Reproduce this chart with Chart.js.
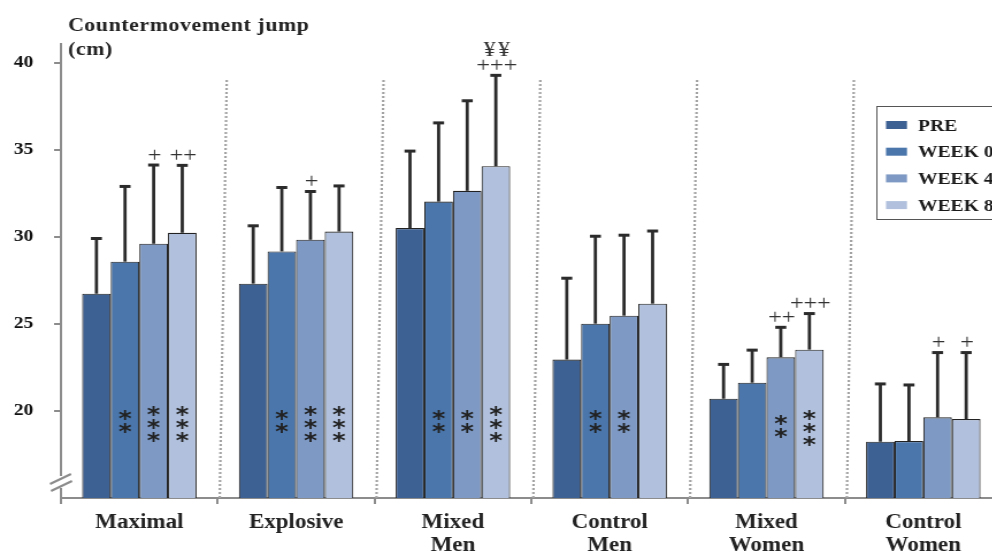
<!DOCTYPE html>
<html>
<head>
<meta charset="utf-8">
<script src="https://cdn.jsdelivr.net/npm/chart.js@4.4.1/dist/chart.umd.min.js"></script>
<style>
  html, body { margin: 0; padding: 0; background: #fff; overflow: hidden; width: 992px; height: 555px; }
  #c { position: absolute; left: 0; top: 0; }
</style>
</head>
<body>
<canvas id="c" width="880" height="569"></canvas>
<script>
// Countermovement jump (cm) by training group and time point
const groups = ['Maximal', 'Explosive', ['Mixed', 'Men'], ['Control', 'Men'], ['Mixed', 'Women'], ['Control', 'Women']];
const seriesNames = ['PRE', 'WEEK 0', 'WEEK 4', 'WEEK 8'];

const pre   = [26.73, 27.31, 30.50, 22.95, 20.70, 18.23];
const week0 = [28.57, 29.16, 32.02, 25.01, 21.62, 18.27];
const week4 = [29.60, 29.83, 32.64, 25.47, 23.08, 19.63];
const week8 = [30.23, 30.30, 34.05, 26.16, 23.52, 19.53];

// standard deviations (upper whiskers)
const preSD   = [3.20, 3.35, 4.45, 4.70, 2.00, 3.35];
const week0SD = [4.35, 3.70, 4.55, 5.05, 1.90, 3.25];
const week4SD = [4.55, 2.80, 5.20, 4.65, 1.75, 3.75];
const week8SD = [3.90, 2.65, 5.25, 4.20, 2.10, 3.85];

// significance vs PRE (number of asterisks)
const starsPre = [0, 0, 0, 0, 0, 0];
const stars0   = [2, 2, 2, 2, 0, 0];
const stars4   = [3, 3, 2, 2, 2, 0];
const stars8   = [3, 3, 3, 0, 3, 0];

// significance vs WEEK 0 (+) and between groups (¥)
const plusPre = ['', '', '', '', '', ''];
const plus0   = ['', '', '', '', '', ''];
const plus4   = ['+', '+', '', '', '++', '+'];
const plus8   = ['++', '', '+++', '', '+++', '+'];
const yen8    = ['', '', '¥¥', '', '', ''];

const yTickValues = [20, 25, 30, 35, 40];
const colors = ['#3e6193', '#4a76ab', '#7d99c4', '#b1c1dd'];

const values = [pre, week0, week4, week8];
const sds = [preSD, week0SD, week4SD, week8SD];
const stars = [starsPre, stars0, stars4, stars8];
const plus = [plusPre, plus0, plus4, plus8];
const none = ['', '', '', '', '', ''];
const yen = [none, none, none, yen8];

const SERIF = '"Liberation Serif", "Times New Roman", serif';

// the figure is drawn on a narrower canvas and widened with CSS
const SX = 1.15;
const canvas = document.getElementById('c');
canvas.style.width = (canvas.width * SX) + 'px';
canvas.style.height = canvas.height + 'px';
const hx = v => v / SX;   // horizontal length in canvas units

function centeredText(ctx, txt, x, cy) {
  const m = ctx.measureText(txt);
  const off = (m.actualBoundingBoxAscent - m.actualBoundingBoxDescent) / 2;
  ctx.fillText(txt, x, cy + off);
}

const decor = {
  id: 'decor',
  beforeDatasetsDraw(chart) {
    const { ctx, scales: { x, y } } = chart;
    // dotted separators between groups
    ctx.save();
    ctx.strokeStyle = '#a3a3a3';
    ctx.lineWidth = hx(2.5);
    ctx.setLineDash([2, 2]);
    const step = (x.right - x.left) / groups.length;
    for (let k = 1; k < groups.length; k++) {
      const bx = x.left + k * step;
      ctx.beginPath();
      ctx.moveTo(bx + hx(9), y.getPixelForValue(39));
      ctx.lineTo(bx + hx(2), y.bottom);
      ctx.stroke();
    }
    ctx.restore();
  },
  afterDatasetsDraw(chart) {
    const { ctx, scales: { y } } = chart;
    ctx.save();
    chart.data.datasets.forEach((ds, di) => {
      const meta = chart.getDatasetMeta(di);
      meta.data.forEach((bar, i) => {
        const top = y.getPixelForValue(values[di][i] + sds[di][i]);
        // whisker with cap
        ctx.strokeStyle = '#2b2b2b';
        ctx.lineWidth = hx(3.2);
        ctx.beginPath();
        ctx.moveTo(bar.x, bar.y);
        ctx.lineTo(bar.x, top);
        ctx.stroke();
        ctx.lineWidth = 3;
        ctx.beginPath();
        ctx.moveTo(bar.x - hx(5.5), top + 0.5);
        ctx.lineTo(bar.x + hx(5.5), top + 0.5);
        ctx.stroke();
        // plus marks and yen marks above the whisker
        ctx.fillStyle = '#333';
        ctx.textAlign = 'center';
        ctx.textBaseline = 'alphabetic';
        if (plus[di][i]) {
          ctx.font = '21px ' + SERIF;
          ctx.letterSpacing = '0px';
          centeredText(ctx, plus[di][i], bar.x + hx(1), top - 10.5);
        }
        if (yen[di][i]) {
          ctx.font = '21px ' + SERIF;
          ctx.letterSpacing = '2px';
          centeredText(ctx, yen[di][i], bar.x + hx(2), top - 26);
          ctx.letterSpacing = '0px';
        }
        // asterisks inside the bar (women's mixed group sits slightly lower)
        const n = stars[di][i];
        if (n) {
          ctx.font = 'bold 22px "DejaVu Sans", sans-serif';
          ctx.fillStyle = '#222';
          const shift = i === 4 ? 4.5 : 0;
          const y0 = (n === 3 ? y.getPixelForValue(20.0) : y.getPixelForValue(19.74)) + shift;
          for (let r = 0; r < n; r++) centeredText(ctx, '*', bar.x, y0 + r * 13);
        }
      });
    });
    ctx.restore();
  },
  afterDraw(chart) {
    const { ctx, scales: { x } } = chart;
    ctx.save();
    // axis break marks
    ctx.fillStyle = '#fff';
    ctx.fillRect(x.left - hx(3), 476, hx(6), 12);
    ctx.strokeStyle = '#8c8c8c';
    ctx.lineWidth = 2;
    ctx.beginPath();
    ctx.moveTo(hx(50), 484); ctx.lineTo(hx(71), 474);
    ctx.moveTo(hx(51), 491); ctx.lineTo(hx(72), 481);
    ctx.stroke();

    // axis title
    ctx.fillStyle = '#222';
    ctx.font = 'bold 19px ' + SERIF;
    ctx.letterSpacing = '0.5px';
    ctx.textAlign = 'left';
    ctx.textBaseline = 'alphabetic';
    ctx.fillText('Countermovement jump', hx(68), 31);
    ctx.fillText('(cm)', hx(68), 55);
    ctx.letterSpacing = '0px';

    // legend
    ctx.strokeStyle = '#555';
    ctx.lineWidth = 1;
    ctx.strokeRect(Math.round(hx(876)) + 0.5, 106.5, 140, 113);
    ctx.font = 'bold 17px ' + SERIF;
    chart.data.datasets.forEach((ds, di) => {
      const cy = 125 + di * 26.7;
      ctx.fillStyle = ds.backgroundColor;
      ctx.fillRect(hx(886), cy - 4, hx(21), 8);
      ctx.fillStyle = '#1a1a1a';
      centeredText(ctx, ds.label, hx(918), cy);
    });
    ctx.restore();
  }
};

new Chart(canvas, {
  type: 'bar',
  data: {
    labels: groups,
    datasets: seriesNames.map((name, di) => ({
      label: name,
      data: values[di],
      backgroundColor: colors[di],
      borderColor: '#222',
      borderWidth: 1.1,
      categoryPercentage: 0.73,
      barPercentage: 1.0
    }))
  },
  options: {
    responsive: false,
    animation: false,
    devicePixelRatio: 1,
    layout: { padding: { left: -6, top: 43.5, right: 9, bottom: 5 } },
    plugins: { legend: { display: false }, tooltip: { enabled: false }, title: { display: false } },
    scales: {
      x: {
        offset: true,
        grid: { offset: true, drawOnChartArea: false, drawTicks: true, tickLength: 6, color: '#8c8c8c', lineWidth: 2 },
        border: { display: true, color: '#8c8c8c', width: 2 },
        ticks: {
          font: { family: SERIF, size: 20, weight: 'bold', lineHeight: 1.15 },
          color: '#222', padding: 7, maxRotation: 0, autoSkip: false
        }
      },
      y: {
        min: 15,
        max: 41.1,
        afterBuildTicks: axis => {
          axis.ticks = yTickValues.map(v => ({ value: v }));
        },
        ticks: {
          stepSize: 5,
          font: { family: SERIF, size: 17, weight: 'bold' },
          color: '#111', padding: 18
        },
        grid: { drawOnChartArea: false, tickLength: 6, color: '#8c8c8c', lineWidth: 2 },
        border: { color: '#8c8c8c', width: 2 }
      }
    }
  },
  plugins: [decor]
});
</script>
</body>
</html>
